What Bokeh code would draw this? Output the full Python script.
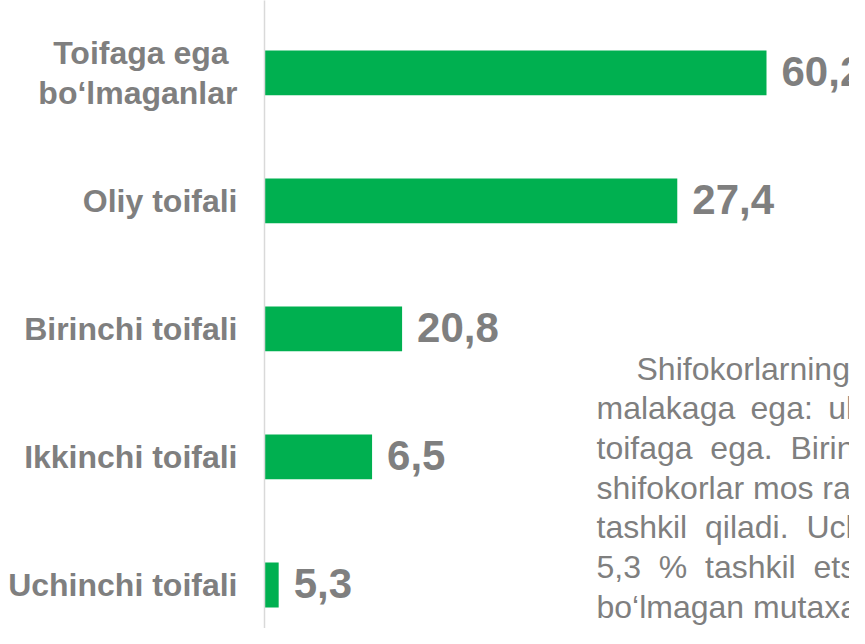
from bokeh.plotting import figure
from bokeh.models import Range1d, FixedTicker, ColumnDataSource, Label
from bokeh.core.properties import value
from bokeh.embed import file_html
from bokeh.resources import INLINE

# ---- data (top to bottom) ----
categories = ["Toifaga ega\u00a0\nbo\u2018lmaganlar", "Oliy toifali", "Birinchi toifali",
              "Ikkinchi toifali", "Uchinchi toifali"]
values = [60.2, 27.4, 20.8, 6.5, 5.3]
# bar lengths as drawn in the picture (same scale, 60.2 = longest bar)
bar_lengths = [60.2, 49.5, 16.5, 12.9, 1.7]
value_labels = [f"{v:.1f}".replace(".", ",") for v in values]

para_lines = [
    "Shifokorlarning",
    "malakaga\u00a0\u2009ega:\u00a0\u2009ula",
    "toifaga\u00a0\u00a0ega.\u00a0\u00a0Birin",
    "shifokorlar mos rav",
    "tashkil\u00a0\u00a0qiladi.\u00a0\u00a0Uch",
    "5,3\u00a0\u00a0%\u00a0\u00a0tashkil\u00a0\u00a0ets",
    "bo\u2018lmagan mutaxa",
]

GREEN = "#00B050"
GRAY = "#7F7F7F"
FONT = "Liberation Sans"

n = len(categories)
ypos = [n - 1 - i for i in range(n)]

W, H = 849, 628
LEFT = 264
X_END = (W - LEFT) / (502 / 60.2)
Y_START, Y_END = -0.340, 4.566

p = figure(width=W, height=H, output_backend="svg", toolbar_location=None,
           x_range=Range1d(0, X_END), y_range=Range1d(Y_START, Y_END),
           x_axis_location=None, min_border_left=LEFT, min_border_right=0,
           min_border_top=0, min_border_bottom=0)
p.outline_line_color = None
p.xgrid.visible = False
p.ygrid.visible = False
p.background_fill_color = "white"
p.border_fill_color = "white"

ax = p.yaxis[0]
ax.ticker = FixedTicker(ticks=ypos)
ax.major_label_overrides = {y: c for y, c in zip(ypos, categories)}
ax.major_label_text_font = FONT
ax.major_label_text_font_style = "bold"
ax.major_label_text_font_size = "32px"
ax.major_label_text_line_height = 1.12
ax.major_label_text_color = GRAY
ax.major_label_standoff = 27
ax.major_tick_out = 0
ax.major_tick_in = 0
ax.minor_tick_out = 0
ax.minor_tick_in = 0
ax.major_tick_line_color = None
ax.minor_tick_line_color = None
ax.axis_line_color = "#D9D9D9"
ax.axis_line_width = 1.5

src = ColumnDataSource(dict(y=ypos, right=bar_lengths, lab=value_labels))
p.hbar(y="y", left=0, right="right", height=0.35, source=src,
       fill_color=GREEN, line_color=None)
p.text(x="right", y="y", text="lab", source=src, x_offset=15, y_offset=-1,
       text_baseline="middle", text_align="left",
       text_font=value(FONT), text_font_style="bold", text_font_size="42px",
       text_color=GRAY)

# paragraph annotation (pixel positions converted to data coords)
frame_w = W - LEFT
def px_x(fx):
    return (fx - LEFT) / frame_w * X_END
def px_y(fy):
    return Y_END - fy / H * (Y_END - Y_START)

base_x = 596
base_y = 368
step = 39.7
for i, line in enumerate(para_lines):
    fx = base_x + (40 if i == 0 else 0)
    p.add_layout(Label(x=px_x(fx), y=px_y(base_y + i * step), text=line,
                       text_font=FONT, text_font_size="32px", text_color=GRAY,
                       text_baseline="alphabetic", text_align="left"))

open("out.html", "w").write(file_html(p, INLINE))
